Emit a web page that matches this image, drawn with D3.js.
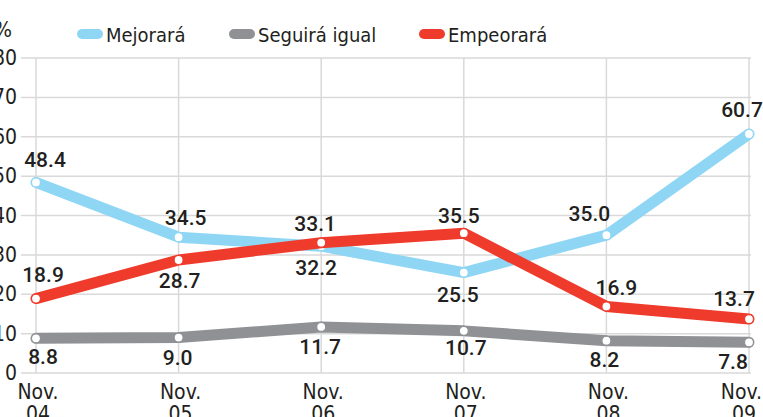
<!DOCTYPE html>
<html>
<head>
<meta charset="utf-8">
<script src="https://cdn.jsdelivr.net/npm/d3@7"></script>
<style>
  body { margin: 0; background: #fff; }
  svg { display: block; }
  .narrow { font-family: "Liberation Sans Narrow", "DejaVu Sans Condensed", sans-serif; }
  .val { font-family: Roboto, "Liberation Sans", sans-serif; font-weight: 500; }
</style>
</head>
<body>
<svg id="chart"></svg>
<script>
// categories and values
const years = ["04", "05", "06", "07", "08", "09"];
const mejorara = [48.4, 34.5, 32.2, 25.5, 35.0, 60.7];
const seguira = [8.8, 9.0, 11.7, 10.7, 8.2, 7.8];
const empeorara = [18.9, 28.7, 33.1, 35.5, 16.9, 13.7];
const yTicks = [0, 10, 20, 30, 40, 50, 60, 70, 80];

const width = 763, height = 417;

const series = [
  { name: "Seguirá igual", values: seguira, color: "#909195" },
  { name: "Mejorará", values: mejorara, color: "#8fd6f5" },
  { name: "Empeorará", values: empeorara, color: "#ef3b2c" }
];

// placement of value labels: [dx, dy] from the point
const labelPos = {
  "Mejorará": [[9, -15], [7, -12], [-5, 29], [-6, 29], [-17, -14], [-7, -17]],
  "Empeorará": [[7, -17], [1, 28], [-6, -12], [-5, -10], [10, -11], [-15, -13]],
  "Seguirá igual": [[7, 26], [-1, 27], [-1, 27], [2, 24], [-2, 26], [-16, 27]]
};

const svg = d3.select("#chart")
  .attr("width", width)
  .attr("height", height);

const x = d3.scalePoint()
  .domain(years)
  .range([36, 749]);

const y = d3.scaleLinear()
  .domain([0, 80])
  .range([373, 58]);

// grille horizontale
svg.append("g")
  .selectAll("line")
  .data(yTicks)
  .join("line")
  .attr("x1", 21).attr("x2", 751)
  .attr("y1", d => y(d)).attr("y2", d => y(d))
  .attr("stroke", "#d9d9d9")
  .attr("stroke-width", 1.5);

// grille verticale
svg.append("g")
  .selectAll("line")
  .data(years)
  .join("line")
  .attr("x1", d => x(d)).attr("x2", d => x(d))
  .attr("y1", y(80)).attr("y2", y(0))
  .attr("stroke", "#d9d9d9")
  .attr("stroke-width", 1.5);

// axe Y
svg.append("g")
  .attr("class", "narrow")
  .selectAll("text")
  .data(yTicks)
  .join("text")
  .attr("x", 17)
  .attr("y", d => y(d) + 7)
  .attr("text-anchor", "end")
  .attr("font-size", 21)
  .attr("fill", "#231f20")
  .text(d => d);

svg.append("text")
  .attr("class", "narrow")
  .attr("x", 12).attr("y", 37)
  .attr("text-anchor", "end")
  .attr("font-size", 21)
  .attr("fill", "#231f20")
  .text("%");

// axe X (le dernier est calé sur le bord droit)
const last = years.length - 1;
const xl = svg.append("g")
  .attr("class", "narrow")
  .selectAll("text")
  .data(years)
  .join("text")
  .attr("y", 399)
  .attr("text-anchor", (d, i) => i === last ? "end" : "middle")
  .attr("font-size", 21)
  .attr("fill", "#231f20");
xl.append("tspan")
  .attr("x", (d, i) => i === last ? width - 1 : x(d) + 2)
  .text("Nov.");
xl.append("tspan")
  .attr("x", (d, i) => i === last ? width - 7 : x(d) + 2)
  .attr("dy", 22)
  .text(d => d);

// lignes
const line = d3.line()
  .x((d, i) => x(years[i]))
  .y(d => y(d));

series.forEach(s => {
  const g = svg.append("g");
  g.append("path")
    .attr("d", line(s.values))
    .attr("fill", "none")
    .attr("stroke", s.color)
    .attr("stroke-width", 11)
    .attr("stroke-linejoin", "round")
    .attr("stroke-linecap", "round");
  g.selectAll("circle")
    .data(s.values)
    .join("circle")
    .attr("cx", (d, i) => x(years[i]))
    .attr("cy", d => y(d))
    .attr("r", 4.5)
    .attr("fill", "#fff")
    .attr("stroke", s.color)
    .attr("stroke-width", 1.2);
});

// étiquettes de valeurs
series.forEach(s => {
  svg.append("g")
    .attr("class", "val")
    .selectAll("text")
    .data(s.values)
    .join("text")
    .attr("x", (d, i) => x(years[i]) + labelPos[s.name][i][0])
    .attr("y", (d, i) => y(d) + labelPos[s.name][i][1])
    .attr("text-anchor", "middle")
    .attr("font-size", 21)
    .attr("fill", "#231f20")
    .text(d => d.toFixed(1));
});

// légende
const legend = [
  { name: "Mejorará", color: "#8fd6f5", x: 77 },
  { name: "Seguirá igual", color: "#909195", x: 229 },
  { name: "Empeorará", color: "#ef3b2c", x: 419 }
];
const lg = svg.append("g").selectAll("g")
  .data(legend)
  .join("g")
  .attr("transform", d => `translate(${d.x},0)`);
lg.append("rect")
  .attr("x", 0).attr("y", 29)
  .attr("width", 26).attr("height", 10)
  .attr("rx", 5)
  .attr("fill", d => d.color);
lg.append("text")
  .attr("class", "narrow")
  .attr("x", 29).attr("y", 42)
  .attr("font-size", 20)
  .attr("fill", "#231f20")
  .text(d => d.name);
</script>
</body>
</html>
